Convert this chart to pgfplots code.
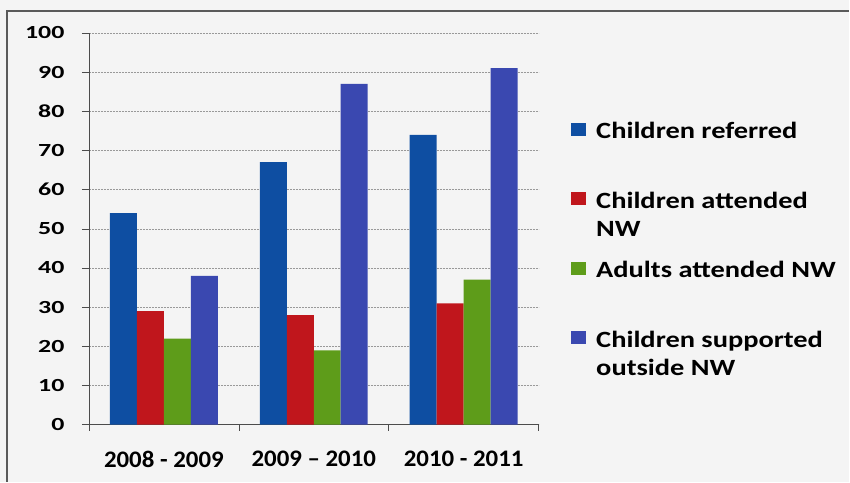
\documentclass[border=0pt]{standalone}
\usepackage{pgfplots}
\pgfplotsset{compat=1.18}
\usepackage{fontspec}
\setmainfont{Carlito}
\newfontfamily\wfont[FakeStretch=1.22]{Carlito}
\newfontfamily\yfont[FakeStretch=1.4]{Carlito}
\newfontfamily\xfont[FakeStretch=1.05]{Carlito}
\definecolor{bgc}{RGB}{244,244,244}
\definecolor{framec}{RGB}{90,90,90}
\definecolor{cblue}{RGB}{14,78,162}
\definecolor{cred}{RGB}{192,22,28}
\definecolor{cgreen}{RGB}{94,156,26}
\definecolor{cpurple}{RGB}{58,72,176}
\newcommand{\legent}[1]{\begin{tabular}[t]{@{}l@{}}#1\end{tabular}}
\begin{document}
\begin{tikzpicture}
\fill[bgc] (0pt,0pt) rectangle (850pt,482pt);
\draw[framec, line width=1.3pt] (7pt,0pt) -- (7pt,471pt) -- (850pt,471pt);
\begin{axis}[
  at={(89pt,57pt)}, anchor=south west,
  scale only axis, width=450pt, height=392pt,
  ymin=0, ymax=100, xmin=-0.5, xmax=2.5,
  ybar=0pt, bar width=27pt,
  axis x line=bottom, axis y line=left,
  axis line style={-, draw=black!70, line width=0.6pt},
  ytick={0,10,...,100},
  xtick={0,1,2},
  xticklabels={2008 - 2009, 2009 – 2010, 2010 - 2011},
  minor xtick={-0.5,0.5,1.5,2.5},
  tick align=outside,
  major tick length=7pt, minor tick length=6pt,
  every major x tick/.append style={draw=none},
  tick style={black!70, line width=0.6pt},
  ymajorgrids,
  grid style={black!40, dash pattern=on 2pt off 1pt, line width=0.5pt},
  /pgf/number format/assume math mode=true,
  yticklabel style={font=\yfont\bfseries\fontsize{18.5}{20}\selectfont, text=black, xshift=-14pt},
  xticklabel style={font=\xfont\bfseries\fontsize{23.7}{26}\selectfont, text=black, yshift=-16pt},
  legend style={at={(1.0722,0.786)}, anchor=north west, draw=none, fill=none,
    inner sep=0pt, row sep=44.6pt, column sep=8pt,
    font=\wfont\bfseries\fontsize{23.3}{28}\selectfont, cells={anchor=west}},
  legend image code/.code={\fill[#1] (0pt,-6pt) rectangle (15pt,7pt);},
]
\addplot[fill=cblue, draw=none] coordinates {(0,54) (1,67) (2,74)};
\addlegendentry{\legent{Children referred}}
\addplot[fill=cred, draw=none] coordinates {(0,29) (1,28) (2,31)};
\addlegendentry{\legent{Children attended\\NW}}
\addplot[fill=cgreen, draw=none] coordinates {(0,22) (1,19) (2,37)};
\addlegendentry{\legent{Adults attended NW}}
\addplot[fill=cpurple, draw=none] coordinates {(0,38) (1,87) (2,91)};
\addlegendentry{\legent{Children supported\\outside NW}}
\end{axis}
\end{tikzpicture}
\end{document}
